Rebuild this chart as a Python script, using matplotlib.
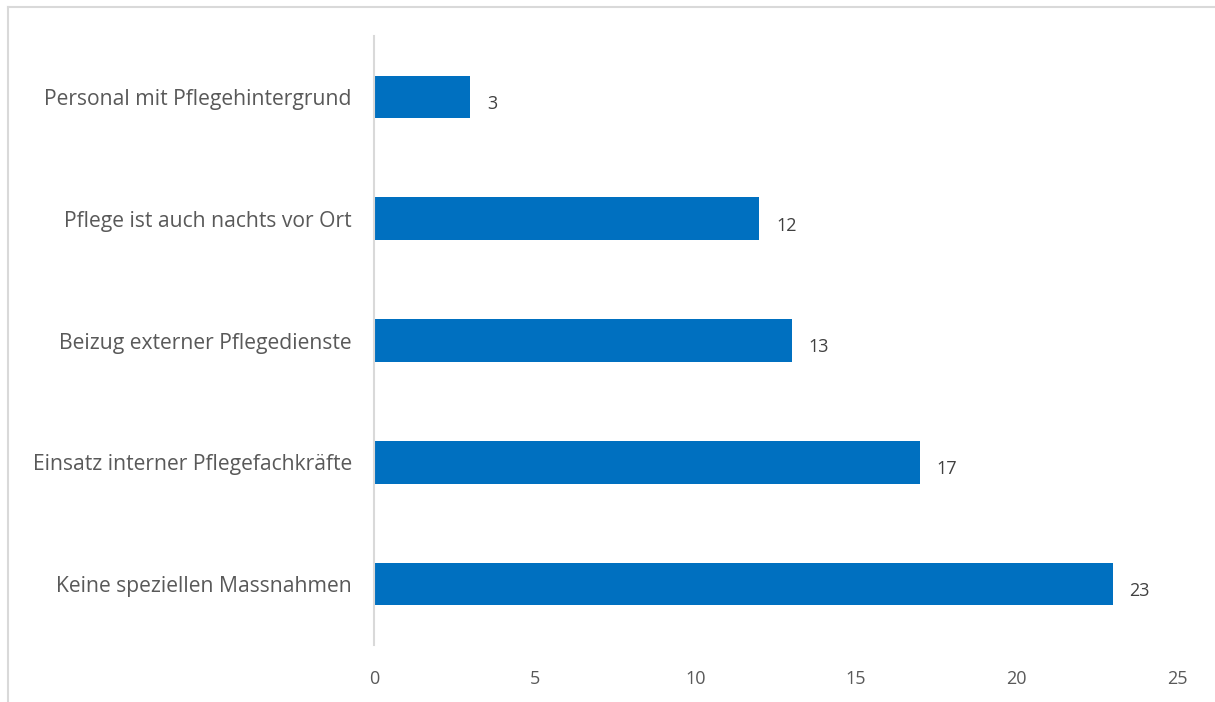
import matplotlib.pyplot as plt
from matplotlib.lines import Line2D

categories = [
    "Keine speziellen Massnahmen",
    "Einsatz interner Pflegefachkräfte",
    "Beizug externer Pflegedienste",
    "Pflege ist auch nachts vor Ort",
    "Personal mit Pflegehintergrund",
]
values = [23, 17, 13, 12, 3]
x_ticks = [0, 5, 10, 15, 20, 25]

plt.rcParams['font.family'] = ['Open Sans', 'DejaVu Sans']

fig = plt.figure(figsize=(12.15, 7.02), dpi=100)
ax = fig.add_axes([0.3078, 0.0812, 0.6609, 0.8675])

pos = list(range(len(categories)))
bars = ax.barh(pos, values, height=0.35, color="#0070C0")

for b, v in zip(bars, values):
    ax.annotate(str(v), (v, b.get_y() + b.get_height() / 2),
                xytext=(12, -5), textcoords="offset points",
                ha="left", va="center", fontsize=13, color="#404040")

ax.set_xlim(0, 25)
ax.set_ylim(-0.5, len(categories) - 0.5)
ax.set_xticks(x_ticks)
ax.set_yticks(pos)
ax.set_yticklabels(categories, fontsize=15.2)

for s in ["top", "right", "bottom"]:
    ax.spines[s].set_visible(False)
ax.spines["left"].set_color("#d9d9d9")
ax.spines["left"].set_linewidth(1.5)

ax.tick_params(axis="both", length=0, labelcolor="#595959")
ax.tick_params(axis="x", labelsize=13, pad=18)
ax.tick_params(axis="y", pad=16)

# outer chart frame
fig.add_artist(Line2D([0.0066, 1.0], [0.9907, 0.9907], color="#d9d9d9", lw=1.5))
fig.add_artist(Line2D([0.0066, 0.0066], [0.0, 0.9907], color="#d9d9d9", lw=1.5))

fig.savefig("out.png", dpi=100)
